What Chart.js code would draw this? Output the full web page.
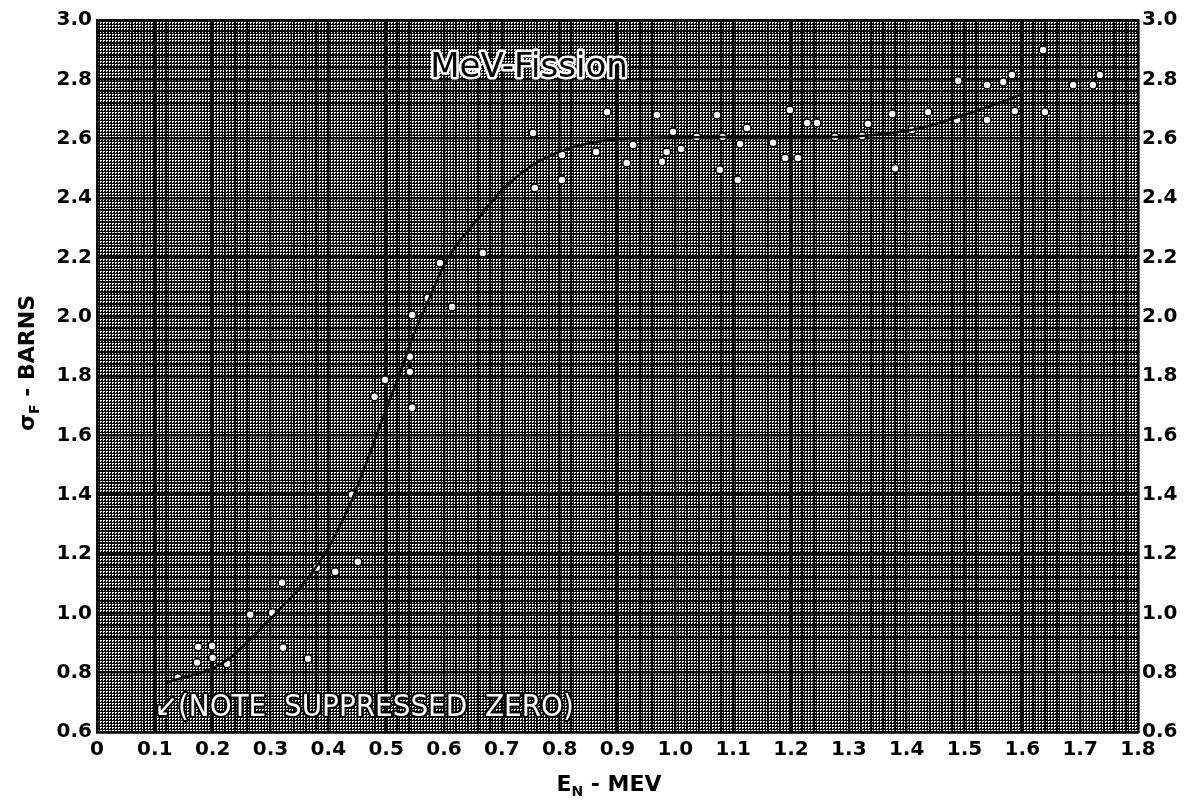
<!DOCTYPE html>
<html>
<head>
<meta charset="utf-8">
<script src="https://cdn.jsdelivr.net/npm/chart.js@4"></script>
<style>
  body { margin: 0; background: #fff; }
  canvas { display: block; }
</style>
</head>
<body>
<canvas id="chart" width="1198" height="806"></canvas>
<script>
// measured cross sections (open circles)
const pointX = [0.14, 0.173, 0.175, 0.199, 0.2, 0.225, 0.265, 0.303, 0.32, 0.322, 0.365, 0.38,
  0.412, 0.441, 0.451, 0.48, 0.498, 0.541, 0.541, 0.545, 0.545, 0.572, 0.593, 0.614, 0.667,
  0.754, 0.757, 0.804, 0.804, 0.863, 0.882, 0.916, 0.927, 0.968, 0.977, 0.985, 0.996, 1.01,
  1.037, 1.072, 1.077, 1.082, 1.108, 1.112, 1.124, 1.169, 1.198, 1.19, 1.212, 1.228, 1.245,
  1.276, 1.323, 1.333, 1.375, 1.38, 1.409, 1.437, 1.487, 1.489, 1.539, 1.539, 1.567, 1.582,
  1.587, 1.636, 1.639, 1.688, 1.722, 1.734];
const pointY = [0.783, 0.834, 0.887, 0.89, 0.85, 0.83, 0.995, 1.002, 1.103, 0.884, 0.847, 1.154,
  1.14, 1.40, 1.174, 1.73, 1.787, 1.865, 1.814, 2.006, 1.693, 2.063, 2.181, 2.033, 2.215,
  2.619, 2.434, 2.545, 2.461, 2.555, 2.69, 2.518, 2.579, 2.68, 2.522, 2.555, 2.623, 2.565,
  2.606, 2.68, 2.495, 2.606, 2.461, 2.582, 2.636, 2.586, 2.697, 2.535, 2.535, 2.653, 2.653,
  2.606, 2.609, 2.65, 2.683, 2.50, 2.629, 2.69, 2.663, 2.795, 2.781, 2.663, 2.791, 2.815,
  2.693, 2.899, 2.69, 2.781, 2.781, 2.815];

// hand-drawn fitted curve
const curveX = [0.12, 0.218, 0.304, 0.391, 0.443, 0.489, 0.524, 0.546, 0.571, 0.605, 0.657, 0.702,
  0.749, 0.795, 0.839, 0.892, 1.0, 1.1, 1.2, 1.276, 1.407, 1.5, 1.596];
const curveY = [0.766, 0.834, 0.989, 1.191, 1.393, 1.63, 1.811, 1.932, 2.046, 2.191, 2.326, 2.43,
  2.505, 2.552, 2.579, 2.596, 2.605, 2.606, 2.606, 2.606, 2.629, 2.68, 2.747];

const xMin = 0, xMax = 1.8;
const yMin = 0.6, yMax = 3.0;

const tickFont = { family: "'DejaVu Sans'", weight: 'bold', size: 20 };

// graph-paper texture for the plot area
function paperPattern(ctx) {
  const c = document.createElement('canvas');
  c.width = 3; c.height = 3;
  const g = c.getContext('2d');
  g.fillStyle = '#fff';
  g.fillRect(0, 0, 3, 3);
  g.fillStyle = '#000';
  g.fillRect(0, 0, 1, 3);
  g.fillRect(0, 0, 3, 1);
  g.fillRect(2, 2, 1, 1);
  return ctx.createPattern(c, 'repeat');
}

const decor = {
  id: 'decor',
  beforeDraw(chart) {
    const { ctx, chartArea: a } = chart;
    ctx.save();
    ctx.fillStyle = paperPattern(ctx);
    ctx.fillRect(a.left, a.top, a.right - a.left, a.bottom - a.top);
    ctx.restore();
  },
  afterDraw(chart) {
    const { ctx, scales: { x, y } } = chart;
    ctx.save();
    ctx.textAlign = 'center';
    ctx.textBaseline = 'middle';

    // label inside the plot
    ctx.font = "34px 'DejaVu Sans'";
    ctx.lineJoin = 'round';
    ctx.strokeStyle = '#fff';
    ctx.lineWidth = 5;
    ctx.strokeText('MeV-Fission', x.getPixelForValue(0.747), y.getPixelForValue(2.838));
    ctx.fillStyle = '#000';
    ctx.fillText('MeV-Fission', x.getPixelForValue(0.747), y.getPixelForValue(2.838));

    // suppressed zero note
    ctx.font = "31px 'DejaVu Sans Condensed'";
    const nx = x.getPixelForValue(0.462), ny = y.getPixelForValue(0.68);
    ctx.strokeStyle = '#000';
    ctx.lineWidth = 4;
    ctx.strokeText('↙(NOTE  SUPPRESSED  ZERO)', nx, ny);
    ctx.fillStyle = '#fff';
    ctx.fillText('↙(NOTE  SUPPRESSED  ZERO)', nx, ny);

    // axis titles with subscripts
    ctx.fillStyle = '#000';
    ctx.textAlign = 'left';
    const big = "bold 22px 'DejaVu Sans'";
    const sub = "bold 14px 'DejaVu Sans'";
    function titled(parts, cx, cy, rot) {
      ctx.save();
      ctx.translate(cx, cy);
      ctx.rotate(rot);
      let w = 0;
      parts.forEach(p => { ctx.font = p[1] ? sub : big; w += ctx.measureText(p[0]).width; });
      let px = -w / 2;
      parts.forEach(p => {
        ctx.font = p[1] ? sub : big;
        ctx.fillText(p[0], px, p[1] ? 7 : 0);
        px += ctx.measureText(p[0]).width;
      });
      ctx.restore();
    }
    titled([['E', false], ['N', true], [' - MEV', false]], 609, 785, 0);
    titled([['σ', false], ['F', true], [' - BARNS', false]], 28, 363, -Math.PI / 2);
    ctx.restore();
  }
};

function xGrid(c) {
  const k = Math.round(c.tick.value * 50);
  return k % 5 === 0 ? 2.4 : 1;
}
function yGrid(c) {
  const k = Math.round(c.tick.value * 25);
  return k % 5 === 0 ? 2.4 : 1;
}

new Chart(document.getElementById('chart'), {
  type: 'scatter',
  data: {
    datasets: [
      {
        label: 'curve',
        data: curveX.map((v, i) => ({ x: v, y: curveY[i] })),
        showLine: true,
        borderColor: '#000',
        borderWidth: 2.5,
        pointRadius: 0,
        cubicInterpolationMode: 'monotone'
      },
      {
        label: 'measured',
        data: pointX.map((v, i) => ({ x: v, y: pointY[i] })),
        pointStyle: 'circle',
        pointRadius: 4,
        borderWidth: 1.6,
        borderColor: '#000',
        backgroundColor: '#fff'
      }
    ]
  },
  options: {
    responsive: false,
    animation: false,
    devicePixelRatio: 1,
    layout: { padding: { top: 20, left: 0, right: 0, bottom: 0 } },
    plugins: { legend: { display: false }, tooltip: { enabled: false } },
    scales: {
      x: {
        type: 'linear', min: xMin, max: xMax,
        afterFit: s => { s.height = 74; },
        ticks: {
          stepSize: 0.02, autoSkip: false, maxRotation: 0, padding: 6,
          color: '#000', font: tickFont,
          callback: v => {
            const k = Math.round(v * 50);
            if (k % 5) return '';
            return k === 0 ? '0' : (k / 50).toFixed(1);
          }
        },
        grid: { color: '#000', lineWidth: xGrid, drawTicks: false },
        border: { color: '#000', width: 2.4 }
      },
      y: {
        type: 'linear', position: 'left', min: yMin, max: yMax,
        afterFit: s => { s.width = 97; },
        ticks: {
          stepSize: 0.04, autoSkip: false, padding: 5,
          color: '#000', font: tickFont,
          callback: v => (Math.round(v * 25) % 5 ? '' : v.toFixed(1))
        },
        grid: { color: '#000', lineWidth: yGrid, drawTicks: false },
        border: { color: '#000', width: 2.4 }
      },
      y2: {
        type: 'linear', position: 'right', min: yMin, max: yMax,
        afterFit: s => { s.width = 60; },
        ticks: {
          stepSize: 0.2, autoSkip: false, padding: 4,
          color: '#000', font: tickFont,
          callback: v => v.toFixed(1)
        },
        grid: { display: false, drawTicks: false },
        border: { color: '#000', width: 2.4 }
      }
    }
  },
  plugins: [decor]
});
</script>
</body>
</html>
